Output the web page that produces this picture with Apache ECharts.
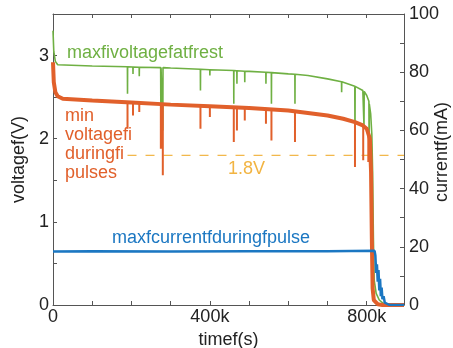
<!DOCTYPE html>
<html>
<head>
<meta charset="utf-8">
<script src="https://cdn.jsdelivr.net/npm/echarts@6/dist/echarts.min.js"></script>
<style>
  html, body { margin: 0; padding: 0; background: #fff; }
  #chart { width: 453px; height: 348px; }
</style>
</head>
<body>
<div id="chart"></div>
<script>
// time in s, voltage in V
const restVoltage = [
  [0, 3.30], [2000, 3.05], [6000, 2.93], [12000, 2.89], [100000, 2.875],
  [189700, 2.865], [190000, 2.54], [190300, 2.865],
  [203700, 2.862], [204000, 2.78], [204300, 2.862],
  [219700, 2.86], [220000, 2.75], [220300, 2.86],
  [274500, 2.855], [275000, 2.30], [275500, 2.855],
  [279500, 2.855], [280000, 2.10], [280500, 2.855],
  [300000, 2.85],
  [375700, 2.835], [376000, 2.58], [376300, 2.835],
  [399700, 2.83], [400000, 2.76], [400300, 2.83],
  [460700, 2.82], [461000, 2.42], [461300, 2.82],
  [468700, 2.818], [469000, 2.66], [469300, 2.818],
  [488700, 2.812], [489000, 2.68], [489300, 2.812],
  [500000, 2.81],
  [542700, 2.80], [543000, 2.66], [543300, 2.80],
  [556700, 2.795], [557000, 2.42], [557300, 2.795],
  [600000, 2.78],
  [616700, 2.775], [617000, 2.42], [617300, 2.775],
  [650000, 2.76], [700000, 2.72],
  [735700, 2.685], [736000, 2.56], [736300, 2.685],
  [769500, 2.63], [770000, 1.98], [770500, 2.63],
  [790000, 2.58], [792500, 2.57], [793000, 2.15], [793500, 2.57],
  [800000, 2.52], [805500, 2.45], [806000, 1.90], [806500, 2.42],
  [810000, 2.30], [813000, 2.05], [815000, 1.60], [817000, 0.80],
  [819000, 0.30], [824000, 0.14], [832000, 0.06], [842000, 0.02],
  [855000, 0], [895000, 0]
];

// min voltage band, without the pulse dips
const minVoltage = [
  [0, 2.92], [2000, 2.68], [6000, 2.56], [12000, 2.51], [25000, 2.48], [100000, 2.46],
  [200000, 2.435], [300000, 2.41], [400000, 2.39], [500000, 2.37], [600000, 2.34],
  [650000, 2.31], [700000, 2.28], [740000, 2.24], [770000, 2.20], [790000, 2.16],
  [800000, 2.12], [808000, 2.00], [811000, 1.60], [813000, 0.80], [815000, 0.20],
  [818000, 0.06], [828000, 0.01], [840000, 0], [895000, 0]
];

// pulse dips: time, band level, lowest value
const minVoltageDips = [
  [190000, 2.44, 2.12], [204000, 2.435, 2.28], [220000, 2.43, 2.32],
  [275000, 2.42, 1.88], [280000, 2.42, 1.56], [376000, 2.395, 2.12],
  [400000, 2.39, 2.26], [461000, 2.38, 1.96], [469000, 2.378, 2.10],
  [489000, 2.372, 2.22], [543000, 2.36, 2.18], [557000, 2.355, 1.98],
  [617000, 2.335, 1.96], [770000, 2.20, 1.66], [791000, 2.155, 1.74],
  [804000, 2.08, 1.72]
];

// current in mA
const maxCurrent = [
  [0, 18.4], [100000, 18.5], [300000, 18.4], [500000, 18.5], [700000, 18.5],
  [820000, 18.6], [822000, 17], [824000, 11], [826000, 14], [828000, 8],
  [830000, 12], [832000, 5], [834000, 9], [836000, 3], [838000, 6],
  [840000, 2], [843000, 3], [846000, 0.8], [850000, 0.3], [858000, 0], [895000, 0]
];

const cutoff = [[190000, 1.8], [895000, 1.8]];

const xTickLabels = { 0: '0', 400000: '400k', 800000: '800k' };
const vTickLabels = [0, 1, 2, 3];
const iTickLabels = [0, 20, 40, 60, 80, 100];

const green = '#6fb043';
const orange = '#e1602b';
const blue = '#1b77c2';
const yellow = '#f2b442';
const axisColor = '#555';
const font = 'Liberation Sans';

// vertical segments, broken apart by empty points
const dipData = [];
minVoltageDips.forEach(([t, top, low]) => {
  dipData.push([t, top], [t, low], [t, '-']);
});

const chart = echarts.init(document.getElementById('chart'));

const axisLine = { show: true, onZero: false, lineStyle: { color: axisColor, width: 1 } };
const axisTick = { show: true, inside: true, length: 4, lineStyle: { color: axisColor } };

chart.setOption({
  animation: false,
  textStyle: { fontFamily: font },
  grid: { left: 53, top: 14, right: 49, bottom: 43, containLabel: false, outerBoundsMode: 'none' },
  xAxis: [
    {
      type: 'value', min: 0, max: 895000, interval: 100000, position: 'bottom',
      axisLine, axisTick, splitLine: { show: false },
      axisLabel: {
        fontSize: 18, color: '#222', margin: 3, fontFamily: font,
        formatter: v => xTickLabels[v] || ''
      },
      name: 'timef(s)', nameLocation: 'middle', nameGap: 25,
      nameTextStyle: { fontSize: 18, color: '#222', fontFamily: font }
    },
    {
      type: 'value', min: 0, max: 895000, interval: 100000, position: 'top',
      axisLine, axisTick, splitLine: { show: false }, axisLabel: { show: false }
    }
  ],
  yAxis: [
    {
      type: 'value', min: 0, max: 3.5, interval: 0.5, position: 'left',
      axisLine, axisTick, splitLine: { show: false },
      axisLabel: {
        fontSize: 18, color: '#222', margin: 4, fontFamily: font,
        formatter: v => vTickLabels.includes(v) ? String(v) : ''
      },
      name: 'voltagef(V)', nameLocation: 'middle', nameGap: 22, nameRotate: 90,
      nameTextStyle: { fontSize: 18, color: '#222', fontFamily: font }
    },
    {
      type: 'value', min: 0, max: 100, interval: 10, position: 'right',
      axisLine, axisTick, splitLine: { show: false },
      axisLabel: {
        fontSize: 18, color: '#222', margin: 5, fontFamily: font,
        formatter: v => iTickLabels.includes(v) ? String(v) : ''
      }
    }
  ],
  series: [
    {
      name: 'cutoff', type: 'line', xAxisIndex: 0, yAxisIndex: 0, data: cutoff,
      showSymbol: false, lineStyle: { color: yellow, width: 1.2, type: [9, 9] }
    },
    {
      name: 'rest', type: 'line', xAxisIndex: 0, yAxisIndex: 0, data: restVoltage,
      showSymbol: false, lineStyle: { color: green, width: 1.6 }
    },
    {
      name: 'pulse', type: 'line', xAxisIndex: 0, yAxisIndex: 0, data: minVoltage,
      showSymbol: false, lineStyle: { color: orange, width: 4 }
    },
    {
      name: 'pulseDips', type: 'line', xAxisIndex: 0, yAxisIndex: 0, data: dipData,
      showSymbol: false, connectNulls: false, lineStyle: { color: orange, width: 2 }
    },
    {
      name: 'current', type: 'line', xAxisIndex: 0, yAxisIndex: 1, data: maxCurrent,
      showSymbol: false, lineStyle: { color: blue, width: 2.5 }
    }
  ],
  graphic: [
    { type: 'text', x: 67, y: 53, style: { text: 'maxfivoltagefatfrest', fill: green, font: '18px ' + font, verticalAlign: 'middle' } },
    { type: 'text', x: 65, y: 107, style: { text: 'min\nvoltagefi\nduringfi\npulses', fill: orange, font: '18px ' + font, lineHeight: 19, verticalAlign: 'top' } },
    { type: 'text', x: 228, y: 169, style: { text: '1.8V', fill: yellow, font: '18px ' + font, verticalAlign: 'middle' } },
    { type: 'text', x: 112, y: 238, style: { text: 'maxfcurrentfduringfpulse', fill: blue, font: '18px ' + font, verticalAlign: 'middle' } },
    { type: 'text', x: 442, y: 152, rotation: Math.PI / 2, style: { text: 'currentf(mA)', fill: '#222', font: '18px ' + font, align: 'center', verticalAlign: 'middle' } }
  ]
});
</script>
</body>
</html>
